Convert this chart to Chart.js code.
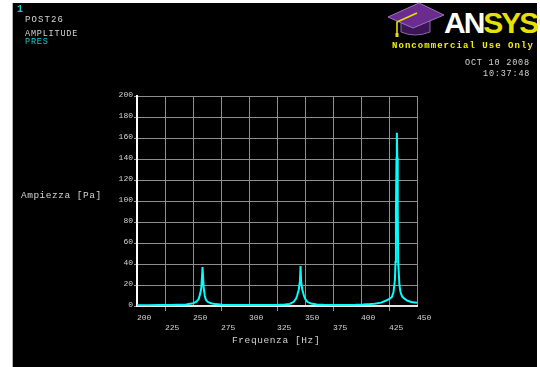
<!DOCTYPE html>
<html>
<head>
<meta charset="utf-8">
<script src="https://cdn.jsdelivr.net/npm/chart.js@4"></script>
<style>
    body { margin: 0; background: #fff; width: 540px; height: 367px; overflow: hidden; position: relative; }
    #panel { position: absolute; left: 12px; top: 3px; width: 524px; height: 364px; background: #000; border-left: 1px solid #b0b0b0; }
    #chart { position: absolute; left: 0; top: 0; }
    .t { position: absolute; white-space: nowrap; font-family: "Liberation Mono", "DejaVu Sans Mono", monospace; color: #d4d4d4; }
    .cy { color: #1cc8c8; }
    .yl { color: #f0f000; font-weight: bold; }
    #logo { position: absolute; left: 385px; top: 0px; }
    #brand { position: absolute; left: 444px; top: 6px; font-family: "Liberation Sans", Arial, sans-serif; font-weight: bold; font-size: 30px; line-height: 34px; letter-spacing: -2px; }
</style>
</head>
<body>
<div id="panel"></div>

<svg id="logo" width="62" height="40" viewBox="0 0 62 40">
    <path d="M16 20 L16 32 Q30 38 45 32 L45 20 Z" fill="#3c1458" stroke="#8a6aa8" stroke-width="1"/>
    <polygon points="3,17 34,3 59,15 28,28" fill="#6a2c8e" stroke="#9a74b8" stroke-width="1"/>
    <polyline points="32,13 12,22 12,35" fill="none" stroke="#e8e000" stroke-width="1.6"/>
    <rect x="10.5" y="33" width="3" height="4" fill="#e8e000"/>
</svg>
<div id="brand"><span style="color:#fff">AN</span><span style="color:#e8e000">SYS</span><sup style="color:#e8e000;font-size:7px;vertical-align:top">®</sup></div>

<canvas id="chart" width="540" height="367"></canvas>

<script>
// frequency sweep (Hz) and pressure amplitude (Pa)
const freqHz = [
    200, 210, 220, 230, 236, 240, 244, 246, 249, 251, 253, 255, 256.5, 257.5, 258.5, 259.5, 260.5, 261.5, 263, 266, 270, 276, 285,
    295, 305, 315, 325, 332, 336.5, 340, 342, 343, 344.5, 345.5, 346, 346.5, 347.5, 349, 350, 352, 355.5, 360.5, 366.5, 375,
    385, 395, 402, 408, 412, 418, 422, 425, 427.5, 429, 430.3, 430.8, 431.2, 431.7, 432, 432.4, 432.8, 433.2, 434.3, 435.3, 436.8, 438.8, 441.5, 445, 450
];
const presPa = [
    0.8, 0.8, 0.9, 1.0, 1.1, 1.2, 1.5, 1.8, 2.3, 3.0, 4.2, 6.5, 12, 18, 37, 18, 10, 6, 4, 2.6, 1.8, 1.3, 1.0,
    0.9, 0.9, 0.9, 1.0, 1.4, 2.0, 4, 7, 10, 16, 24, 38, 24, 16, 10, 7, 4, 2.3, 1.5, 1.1, 1.0,
    1.0, 1.1, 1.4, 1.8, 2.2, 3.2, 5, 6.5, 8.5, 13, 25, 42, 91, 141, 165, 141, 91, 42, 20, 13, 9, 7, 5, 3.8, 3
];

const xTicks = [200, 225, 250, 275, 300, 325, 350, 375, 400, 425, 450];
const yTicks = [0, 20, 40, 60, 80, 100, 120, 140, 160, 180, 200];

const points = freqHz.map((f, i) => ({ x: f, y: presPa[i] }));

const tickFont = { family: "Liberation Mono", size: 8, lineHeight: 1.25 };

new Chart(document.getElementById("chart"), {
    type: "line",
    data: {
        datasets: [{
            label: "PRES",
            data: points,
            borderColor: "#00ffff",
            borderWidth: 2,
            pointRadius: 0,
            tension: 0
        }]
    },
    options: {
        responsive: false,
        animation: false,
        layout: { padding: { left: 0, top: 96, right: 123, bottom: 0 } },
        plugins: { legend: { display: false }, tooltip: { enabled: false } },
        scales: {
            x: {
                type: "linear",
                min: xTicks[0],
                max: xTicks[xTicks.length - 1],
                afterBuildTicks: (s) => { s.ticks = xTicks.map(v => ({ value: v })); },
                afterFit: (s) => { s.height = 61; },
                grid: {
                    color: "#8e8e8e",
                    tickLength: 5,
                    tickColor: (c) => c.index % 2 ? "#8e8e8e" : "rgba(0,0,0,0)"
                },
                border: { color: "#e6e6e6", width: 2 },
                ticks: {
                    color: "#d4d4d4",
                    font: tickFont,
                    align: "start",
                    padding: 2,
                    maxRotation: 0,
                    autoSkip: false,
                    callback: (v, i) => i % 2 ? ["", String(v)] : String(v)
                }
            },
            y: {
                min: yTicks[0],
                max: yTicks[yTicks.length - 1],
                afterBuildTicks: (s) => { s.ticks = yTicks.map(v => ({ value: v })); },
                afterFit: (s) => { s.width = 137; },
                grid: { color: "#8e8e8e", tickLength: 3, tickColor: "#9a9a9a" },
                border: { color: "#ffffff", width: 2 },
                ticks: {
                    color: "#d4d4d4",
                    font: tickFont,
                    padding: 1,
                    labelOffset: -1,
                    autoSkip: false
                }
            }
        }
    }
});
</script>

<div class="t cy" style="left:17px;top:4px;font-size:10px;line-height:12px;font-weight:bold">1</div>
<div class="t" style="left:25px;top:15px;font-size:9px;line-height:11px;letter-spacing:1.1px">POST26</div>
<div class="t" style="left:25px;top:29px;font-size:8.5px;line-height:11px;letter-spacing:0.8px">AMPLITUDE</div>
<div class="t cy" style="left:25px;top:37px;font-size:8.5px;line-height:11px;letter-spacing:0.8px">PRES</div>

<div class="t yl" style="left:392px;top:40px;font-size:9px;line-height:12px;letter-spacing:1.05px">Noncommercial Use Only</div>
<div class="t" style="left:465px;top:58px;font-size:8.5px;line-height:11px;letter-spacing:0.8px">OCT 10 2008</div>
<div class="t" style="left:483px;top:69px;font-size:8.5px;line-height:11px;letter-spacing:0.8px">10:37:48</div>

<div class="t" style="left:21px;top:190px;font-size:9.5px;line-height:12px;letter-spacing:0.5px">Ampiezza [Pa]</div>
<div class="t" style="left:232px;top:335px;font-size:9.5px;line-height:12px;letter-spacing:0.6px">Frequenza [Hz]</div>
</body>
</html>
